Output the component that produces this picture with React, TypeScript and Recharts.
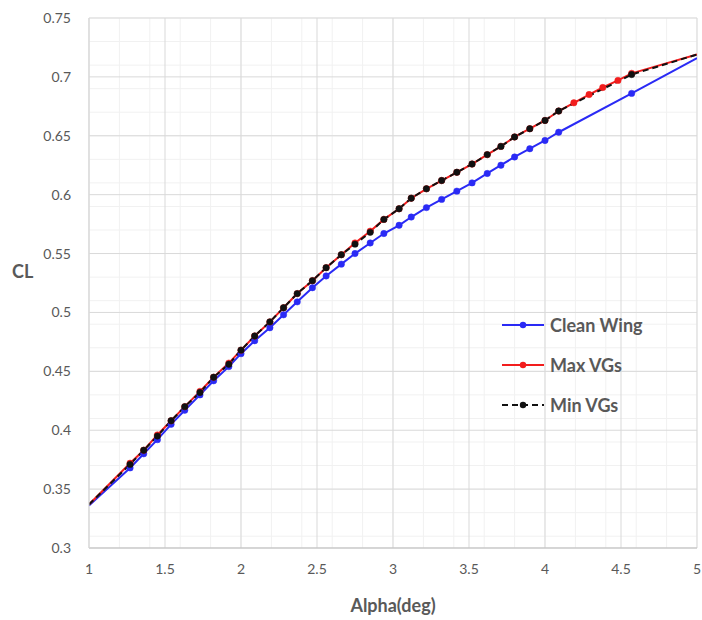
import React from 'react';
import {
  LineChart,
  Line,
  XAxis,
  YAxis,
  CartesianGrid,
  Legend,
} from 'recharts';

// angle of attack (deg) for each measured point
const alphaClean = [1.0, 1.27, 1.36, 1.45, 1.54, 1.63, 1.73, 1.82, 1.92, 2.0, 2.09, 2.19, 2.28, 2.37, 2.47, 2.56, 2.66, 2.75, 2.85, 2.94, 3.04, 3.12, 3.22, 3.32, 3.42, 3.52, 3.62, 3.71, 3.8, 3.9, 4.0, 4.09, 4.57, 5.0];
const clClean = [0.336, 0.368, 0.38, 0.392, 0.405, 0.417, 0.43, 0.442, 0.454, 0.465, 0.476, 0.487, 0.498, 0.509, 0.521, 0.531, 0.541, 0.55, 0.559, 0.567, 0.574, 0.581, 0.589, 0.596, 0.603, 0.61, 0.618, 0.625, 0.632, 0.639, 0.646, 0.653, 0.686, 0.716];

const alphaMax = [1.0, 1.27, 1.36, 1.45, 1.54, 1.63, 1.73, 1.82, 1.92, 2.0, 2.09, 2.19, 2.28, 2.37, 2.47, 2.56, 2.66, 2.75, 2.85, 2.94, 3.04, 3.12, 3.22, 3.32, 3.42, 3.52, 3.62, 3.71, 3.8, 3.9, 4.0, 4.09, 4.19, 4.29, 4.38, 4.48, 4.57, 5.0];
const clMax = [0.337, 0.372, 0.383, 0.396, 0.408, 0.42, 0.433, 0.445, 0.457, 0.468, 0.48, 0.492, 0.504, 0.516, 0.527, 0.538, 0.549, 0.559, 0.569, 0.579, 0.588, 0.597, 0.605, 0.612, 0.619, 0.626, 0.634, 0.641, 0.649, 0.656, 0.663, 0.671, 0.678, 0.685, 0.691, 0.697, 0.703, 0.719];

const alphaMin = [1.0, 1.27, 1.36, 1.45, 1.54, 1.63, 1.73, 1.82, 1.92, 2.0, 2.09, 2.19, 2.28, 2.37, 2.47, 2.56, 2.66, 2.75, 2.85, 2.94, 3.04, 3.12, 3.22, 3.32, 3.42, 3.52, 3.62, 3.71, 3.8, 3.9, 4.0, 4.09, 4.57, 5.0];
const clMin = [0.337, 0.371, 0.383, 0.395, 0.408, 0.42, 0.432, 0.445, 0.456, 0.468, 0.48, 0.492, 0.504, 0.516, 0.527, 0.538, 0.549, 0.558, 0.568, 0.579, 0.588, 0.597, 0.605, 0.612, 0.619, 0.626, 0.634, 0.641, 0.649, 0.656, 0.663, 0.671, 0.702, 0.719];

const xTicks = [1, 1.5, 2, 2.5, 3, 3.5, 4, 4.5, 5];
const yTicks = [0.3, 0.35, 0.4, 0.45, 0.5, 0.55, 0.6, 0.65, 0.7, 0.75];

const minorX: number[] = [];
for (let i = 10; i <= 50; i++) minorX.push(i / 10);
const minorY: number[] = [];
for (let i = 30; i <= 75; i++) minorY.push(i / 100);

const toRows = (xs: number[], ys: number[]) => xs.map((a, i) => ({ alpha: a, cl: ys[i] }));

const series = [
  { name: 'Clean Wing', color: '#2a2af5', dash: undefined, data: toRows(alphaClean, clClean) },
  { name: 'Max VGs', color: '#f21d1d', dash: undefined, data: toRows(alphaMax, clMax) },
  { name: 'Min VGs', color: '#111111', dash: '6 4', data: toRows(alphaMin, clMin) },
];

const tickStyle = { fontSize: 14, fill: '#595959', fontFamily: 'Lato' };

// hide markers that sit on the plot edges
const makeDot = (color: string) => (props: any) => {
  const { cx, cy, payload, index } = props;
  if (payload.alpha <= 1 || payload.alpha >= 5) return <g key={index} />;
  return <circle key={index} cx={cx} cy={cy} r={3.2} fill={color} stroke={color} strokeWidth={0.5} />;
};

const renderLegend = () => (
  <div style={{ fontFamily: 'Lato', fontWeight: 700, fontSize: 18, color: '#595959' }}>
    {series.map((s) => (
      <div key={s.name} style={{ display: 'flex', alignItems: 'center', height: 40 }}>
        <svg width={46} height={12} style={{ marginRight: 4 }}>
          <line x1={2} y1={6} x2={44} y2={6} stroke={s.color} strokeWidth={2} strokeDasharray={s.dash} />
          <circle cx={23} cy={6} r={3.2} fill={s.color} />
        </svg>
        <span>{s.name}</span>
      </div>
    ))}
  </div>
);

const App: React.FC = () => (
  <div style={{ width: 702, height: 620, background: '#fff' }}>
    <style>{'body{margin:0}'}</style>
    <LineChart width={702} height={620} margin={{ top: 18, right: 5, left: 0, bottom: 0 }}>
      <CartesianGrid
        horizontalValues={minorY}
        verticalValues={minorX}
        stroke="#f1f1f1"
        strokeWidth={1}
      />
      <CartesianGrid
        horizontalValues={yTicks}
        verticalValues={xTicks}
        stroke="#d9d9d9"
        strokeWidth={1}
      />
      <XAxis
        type="number"
        dataKey="alpha"
        domain={[1, 5]}
        ticks={xTicks}
        allowDataOverflow
        tickLine={false}
        axisLine={{ stroke: '#bfbfbf' }}
        tick={tickStyle}
        tickMargin={10}
        height={72}
        label={{
          value: 'Alpha(deg)',
          position: 'insideBottom',
          offset: 8,
          style: { fontSize: 18, fontWeight: 700, fill: '#595959', fontFamily: 'Lato' },
        }}
      />
      <YAxis
        type="number"
        dataKey="cl"
        domain={[0.3, 0.75]}
        ticks={yTicks}
        allowDataOverflow
        tickLine={false}
        axisLine={{ stroke: '#d9d9d9' }}
        tick={tickStyle}
        tickMargin={12}
        width={89}
        label={{
          value: 'CL',
          position: 'insideLeft',
          offset: 12,
          dy: -11,
          style: { fontSize: 18, fontWeight: 700, fill: '#595959', fontFamily: 'Lato', textAnchor: 'start' },
        }}
      />
      {series.map((s) => (
        <Line
          key={s.name}
          data={s.data}
          dataKey="cl"
          name={s.name}
          type="linear"
          stroke={s.color}
          strokeWidth={2}
          strokeDasharray={s.dash}
          dot={makeDot(s.color)}
          activeDot={false}
          isAnimationActive={false}
        />
      ))}
      <Legend
        layout="vertical"
        align="center"
        verticalAlign="middle"
        content={renderLegend}
        wrapperStyle={{ position: 'absolute', left: 500, top: 305, width: 200 }}
      />
    </LineChart>
  </div>
);

export default App;
